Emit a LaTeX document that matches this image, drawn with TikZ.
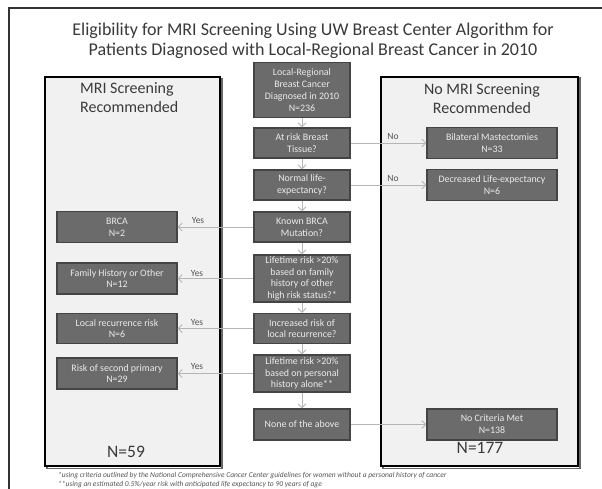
\documentclass[tikz,border=0pt]{standalone}
\usepackage{fontspec}
\setmainfont{Carlito}
\usetikzlibrary{arrows.meta}
\definecolor{boxfill}{HTML}{6B6B6B}
\definecolor{boxline}{HTML}{444444}
\definecolor{panelfill}{HTML}{F1F1F1}
\definecolor{arrowgrey}{HTML}{B5B5B5}
\definecolor{labelgrey}{HTML}{555555}
\definecolor{textgrey}{HTML}{3A3A3A}
\tikzset{
  flowbox/.style={draw=boxline, line width=1.2pt, fill=boxfill, text=white!92!black,
    align=center, inner sep=0pt, font=\fontsize{9.9}{11.8}\selectfont},
  cbox/.style={flowbox, minimum width=96pt},
  lbox/.style={flowbox, minimum width=120pt},
  rbox/.style={flowbox, minimum width=130pt},
  panel/.style={draw=black, line width=1.6pt, fill=panelfill},
  flowarrow/.style={draw=arrowgrey, line width=0.9pt, -{Straight Barb[length=4pt,width=8pt]}},
  yesno/.style={text=labelgrey, font=\fontsize{9.5}{11}\selectfont, inner sep=0pt},
  paneltitle/.style={text=textgrey, font=\fontsize{16}{19}\selectfont, inner sep=0pt},
  bigcount/.style={text=textgrey, font=\fontsize{17.5}{20}\selectfont, inner sep=0pt},
  footnote/.style={text=labelgrey, font=\fontsize{7.5}{9}\selectfont\itshape, inner sep=0pt, anchor=west}
}
\begin{document}
\begin{tikzpicture}[x=1pt,y=-1pt]
\useasboundingbox (0,0) rectangle (602,488);
\fill[white] (0,0) rectangle (602,488);
% outer frame
\draw[draw=black!80, line width=1.3pt] (9,492) -- (9,8) -- (606,8);
% title
\node[text=textgrey, font=\fontsize{18}{20.3}\selectfont, align=center, inner sep=0pt] (title) at (313,41)
  {Eligibility for MRI Screening Using UW Breast Center Algorithm for\\Patients Diagnosed with Local-Regional Breast Cancer in 2010};
% panels (with slight shadow)
\draw[black!60, line width=1.2pt] (47,79) rectangle (222,468.5);
\draw[black!60, line width=1.2pt] (383,78) rectangle (580,468.5);
\node[panel, minimum width=175pt, minimum height=389pt, inner sep=0pt] (leftpanel) at (132.5,271.5) {};
\node[panel, minimum width=197pt, minimum height=389pt, inner sep=0pt] (rightpanel) at (479.5,271.5) {};
\node[paneltitle, align=left, anchor=west] (lefttitle) at (80,97.5) {MRI Screening\\Recommended};
\node[paneltitle, align=center] (righttitle) at (482,99) {No MRI Screening\\Recommended};
\node[bigcount] (n59) at (126,452) {N=59};
\node[bigcount] (n177) at (480,448) {N=177};
% center column
\node[cbox, minimum height=55pt] (c1) at (302,90) {Local-Regional\\Breast Cancer\\Diagnosed in 2010\\N=236};
\node[cbox, minimum height=30pt] (c2) at (302,143) {At risk Breast\\Tissue?};
\node[cbox, minimum height=30pt] (c3) at (302,185) {Normal life-\\expectancy?};
\node[cbox, minimum height=30pt] (c4) at (302,227) {Known BRCA\\Mutation?};
\node[cbox, minimum height=47pt] (c5) at (302,278.5) {Lifetime risk >20\%\\based on family\\history of other\\high risk status?*};
\node[cbox, minimum height=30pt] (c6) at (302,328.5) {Increased risk of\\local recurrence?};
\node[cbox, minimum height=37pt] (c7) at (302,373.5) {Lifetime risk >20\%\\based on personal\\history alone**};
\node[cbox, minimum height=31pt] (c8) at (302,424.5) {None of the above};
% left boxes
\node[lbox, minimum height=31pt] (l1) at (117,227) {BRCA\\N=2};
\node[lbox, minimum height=31pt] (l2) at (117,278.5) {Family History or Other\\N=12};
\node[lbox, minimum height=30pt] (l3) at (117,328.5) {Local recurrence risk\\N=6};
\node[lbox, minimum height=31pt] (l4) at (117,373.5) {Risk of second primary\\N=29};
% right boxes
\node[rbox, minimum height=31pt] (r1) at (492,143) {Bilateral Mastectomies\\N=33};
\node[rbox, minimum height=31pt] (r2) at (492,185) {Decreased Life-expectancy\\N=6};
\node[rbox, minimum height=31pt] (r3) at (492,424.5) {No Criteria Met\\N=138};
% vertical connectors
\foreach \a/\b in {c1/c2,c2/c3,c3/c4,c4/c5,c5/c6,c6/c7,c7/c8}
  \draw[flowarrow] (\a.south) -- (\b.north);
% horizontal connectors
\draw[flowarrow] (c2.east) -- (r1.west);
\draw[flowarrow] (c3.east) -- (r2.west);
\draw[flowarrow] (c8.east) -- (r3.west);
\draw[flowarrow] (c4.west) -- (l1.east);
\draw[flowarrow] (c5.west) -- (l2.east);
\draw[flowarrow] (c6.west) -- (l3.east);
\draw[flowarrow] (c7.west) -- (l4.east);
% labels
\node[yesno] (no1) at (393,136) {No};
\node[yesno] (no2) at (393,178) {No};
\node[yesno] (yes1) at (198,220) {Yes};
\node[yesno] (yes2) at (197,273) {Yes};
\node[yesno] (yes3) at (197,322) {Yes};
\node[yesno] (yes4) at (197,366) {Yes};
% footnotes
\node[footnote] (fn1) at (58,475) {*using criteria outlined by the National Comprehensive Cancer Center guidelines for women without a personal history of cancer};
\node[footnote] (fn2) at (58,484.5) {**using an estimated 0.5\%/year risk with anticipated life expectancy to 90 years of age};
\end{tikzpicture}
\end{document}
